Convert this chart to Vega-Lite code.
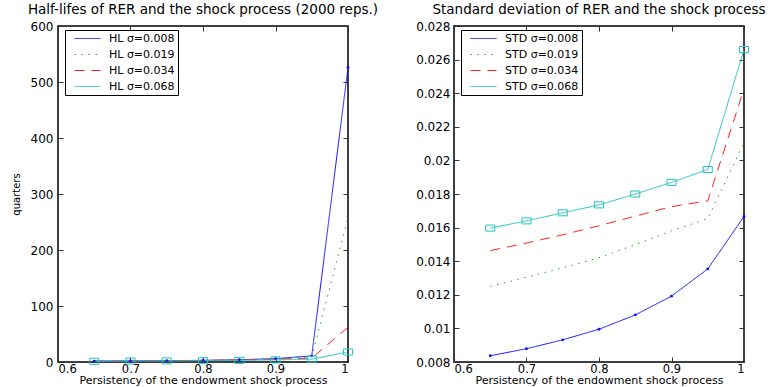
{
  "$schema": "https://vega.github.io/schema/vega-lite/v6.json",
  "autosize": {"type": "pad"},
  "padding": {"left": 10, "top": 1, "right": 0, "bottom": 0},
  "bounds": "flush",
  "spacing": 106,
  "background": "white",
  "config": {
    "font": "DejaVu Sans",
    "view": {"stroke": "#000", "strokeWidth": 1.5},
    "title": {"font": "DejaVu Sans", "fontSize": 13.5, "fontWeight": "normal", "offset": 4, "color": "#000"},
    "axis": {
      "domain": false, "grid": false,
      "tickSize": -5, "tickColor": "#333", "tickWidth": 1,
      "labelFont": "DejaVu Sans", "labelFontSize": 12, "labelColor": "#000",
      "labelPadding": 9,
      "titleFont": "DejaVu Sans", "titleFontWeight": "normal", "titleColor": "#000"
    },
    "legend": {
      "title": null, "orient": "none", "legendX": 7, "legendY": 4,
      "strokeColor": "#000", "fillColor": "white", "padding": 3,
      "symbolType": "M-2.6,0H2.6", "symbolSize": 100, "symbolStrokeWidth": 1, "symbolOffset": 14,
      "labelFont": "DejaVu Sans", "labelFontSize": 11, "labelOffset": 16,
      "labelLimit": 300, "rowPadding": 4, "labelColor": "#000"
    }
  },
  "datasets": {
    "rows": [
      {"p": 0.65, "sigma": "0.008", "hl": 1.6, "sd": 0.00837},
      {"p": 0.70, "sigma": "0.008", "hl": 2.0, "sd": 0.00879},
      {"p": 0.75, "sigma": "0.008", "hl": 2.4, "sd": 0.00932},
      {"p": 0.80, "sigma": "0.008", "hl": 3.0, "sd": 0.00995},
      {"p": 0.85, "sigma": "0.008", "hl": 4.1, "sd": 0.01080},
      {"p": 0.90, "sigma": "0.008", "hl": 6.0, "sd": 0.01192},
      {"p": 0.95, "sigma": "0.008", "hl": 11, "sd": 0.01354},
      {"p": 1.00, "sigma": "0.008", "hl": 526, "sd": 0.01666},
      {"p": 0.65, "sigma": "0.019", "hl": 1.6, "sd": 0.01250},
      {"p": 0.70, "sigma": "0.019", "hl": 1.9, "sd": 0.01305},
      {"p": 0.75, "sigma": "0.019", "hl": 2.3, "sd": 0.01360},
      {"p": 0.80, "sigma": "0.019", "hl": 2.9, "sd": 0.01421},
      {"p": 0.85, "sigma": "0.019", "hl": 3.9, "sd": 0.01498},
      {"p": 0.90, "sigma": "0.019", "hl": 5.7, "sd": 0.01581},
      {"p": 0.95, "sigma": "0.019", "hl": 9, "sd": 0.01654},
      {"p": 1.00, "sigma": "0.019", "hl": 258, "sd": 0.02104},
      {"p": 0.65, "sigma": "0.034", "hl": 1.5, "sd": 0.01463},
      {"p": 0.70, "sigma": "0.034", "hl": 1.8, "sd": 0.01508},
      {"p": 0.75, "sigma": "0.034", "hl": 2.2, "sd": 0.01557},
      {"p": 0.80, "sigma": "0.034", "hl": 2.7, "sd": 0.01611},
      {"p": 0.85, "sigma": "0.034", "hl": 3.5, "sd": 0.01668},
      {"p": 0.90, "sigma": "0.034", "hl": 5.0, "sd": 0.01725},
      {"p": 0.95, "sigma": "0.034", "hl": 7, "sd": 0.01759},
      {"p": 1.00, "sigma": "0.034", "hl": 62, "sd": 0.02425},
      {"p": 0.65, "sigma": "0.068", "hl": 1.3, "sd": 0.01597},
      {"p": 0.70, "sigma": "0.068", "hl": 1.6, "sd": 0.01640},
      {"p": 0.75, "sigma": "0.068", "hl": 1.9, "sd": 0.01688},
      {"p": 0.80, "sigma": "0.068", "hl": 2.3, "sd": 0.01735},
      {"p": 0.85, "sigma": "0.068", "hl": 2.9, "sd": 0.01800},
      {"p": 0.90, "sigma": "0.068", "hl": 3.8, "sd": 0.01869},
      {"p": 0.95, "sigma": "0.068", "hl": 5, "sd": 0.01946},
      {"p": 1.00, "sigma": "0.068", "hl": 18, "sd": 0.02660}
    ]
  },
  "resolve": {"scale": {"color": "independent", "strokeDash": "independent"}, "legend": {"color": "independent", "strokeDash": "independent"}},
  "hconcat": [
    {
      "title": "Half-lifes of RER and the shock process (2000 reps.)",
      "width": 290, "height": 336,
      "data": {"name": "rows"},
      "layer": [
        {
          "mark": {"type": "line", "strokeWidth": 1, "clip": true},
          "encoding": {
            "x": {"field": "p", "type": "quantitative", "scale": {"domain": [0.6, 1], "nice": false, "zero": false},
                  "axis": {"orient": "bottom", "values": [0.6, 0.7, 0.8, 0.9, 1], "format": "~g", "labelFontSize": 11.5, "labelPadding": 6, "title": "Persistency of the endowment shock process", "titleFontSize": 11, "titlePadding": 0}},
            "y": {"field": "hl", "type": "quantitative", "scale": {"domain": [0, 600], "nice": false},
                  "axis": {"orient": "left", "values": [0, 100, 200, 300, 400, 500, 600], "title": "quarters", "titleFontSize": 10, "titlePadding": 9, "labelPadding": 10}},
            "color": {"field": "sigma", "type": "nominal",
                      "scale": {"domain": ["0.008", "0.019", "0.034", "0.068"], "range": ["#1010ff", "#22aa22", "#ff2020", "#22c4c4"]},
                      "legend": {"labelExpr": "'HL σ=' + datum.label"}},
            "strokeDash": {"field": "sigma", "type": "nominal",
                      "scale": {"domain": ["0.008", "0.019", "0.034", "0.068"], "range": [[1, 0], [1.5, 5.5], [10, 7], [1, 0]]},
                      "legend": {"labelExpr": "'HL σ=' + datum.label"}}
          }
        },
        {
          "transform": [{"filter": "datum.sigma == '0.008'"}],
          "mark": {"type": "point", "filled": true, "size": 8, "color": "#1010ff", "opacity": 1},
          "encoding": {
            "x": {"field": "p", "type": "quantitative", "axis": {"orient": "top", "labels": false, "title": null, "values": [0.6, 0.7, 0.8, 0.9, 1]}},
            "y": {"field": "hl", "type": "quantitative", "axis": {"orient": "right", "labels": false, "title": null, "values": [0, 100, 200, 300, 400, 500, 600]}}
          }
        },
        {
          "transform": [{"filter": "datum.sigma == '0.068'"}],
          "mark": {"type": "point", "filled": false, "size": 45, "shape": "M-1.35,-0.9H1.35V0.9H-1.35Z", "color": "#22c4c4", "strokeWidth": 1, "opacity": 1},
          "encoding": {
            "x": {"field": "p", "type": "quantitative", "axis": null},
            "y": {"field": "hl", "type": "quantitative", "axis": null}
          }
        }
      ]
    },
    {
      "title": "Standard deviation of RER and the shock process",
      "width": 290, "height": 336,
      "data": {"name": "rows"},
      "layer": [
        {
          "mark": {"type": "line", "strokeWidth": 1, "clip": true},
          "encoding": {
            "x": {"field": "p", "type": "quantitative", "scale": {"domain": [0.6, 1], "nice": false, "zero": false},
                  "axis": {"orient": "bottom", "values": [0.6, 0.7, 0.8, 0.9, 1], "format": "~g", "labelFontSize": 11.5, "labelPadding": 6, "title": "Persistency of the endowment shock process", "titleFontSize": 11, "titlePadding": 0}},
            "y": {"field": "sd", "type": "quantitative", "scale": {"domain": [0.008, 0.028], "nice": false, "zero": false},
                  "axis": {"orient": "left", "values": [0.008, 0.01, 0.012, 0.014, 0.016, 0.018, 0.02, 0.022, 0.024, 0.026, 0.028], "format": ".3~f", "title": null, "labelPadding": 9}},
            "color": {"field": "sigma", "type": "nominal",
                      "scale": {"domain": ["0.008", "0.019", "0.034", "0.068"], "range": ["#1010ff", "#22aa22", "#ff2020", "#22c4c4"]},
                      "legend": {"labelExpr": "'STD σ=' + datum.label"}},
            "strokeDash": {"field": "sigma", "type": "nominal",
                      "scale": {"domain": ["0.008", "0.019", "0.034", "0.068"], "range": [[1, 0], [1.5, 5.5], [10, 7], [1, 0]]},
                      "legend": {"labelExpr": "'STD σ=' + datum.label"}}
          }
        },
        {
          "transform": [{"filter": "datum.sigma == '0.008'"}],
          "mark": {"type": "point", "filled": true, "size": 8, "color": "#1010ff", "opacity": 1},
          "encoding": {
            "x": {"field": "p", "type": "quantitative", "axis": {"orient": "top", "labels": false, "title": null, "values": [0.6, 0.7, 0.8, 0.9, 1]}},
            "y": {"field": "sd", "type": "quantitative", "axis": {"orient": "right", "labels": false, "title": null, "values": [0.008, 0.01, 0.012, 0.014, 0.016, 0.018, 0.02, 0.022, 0.024, 0.026, 0.028]}}
          }
        },
        {
          "transform": [{"filter": "datum.sigma == '0.068'"}],
          "mark": {"type": "point", "filled": false, "size": 45, "shape": "M-1.35,-0.9H1.35V0.9H-1.35Z", "color": "#22c4c4", "strokeWidth": 1, "opacity": 1},
          "encoding": {
            "x": {"field": "p", "type": "quantitative", "axis": null},
            "y": {"field": "sd", "type": "quantitative", "axis": null}
          }
        }
      ]
    }
  ]
}
